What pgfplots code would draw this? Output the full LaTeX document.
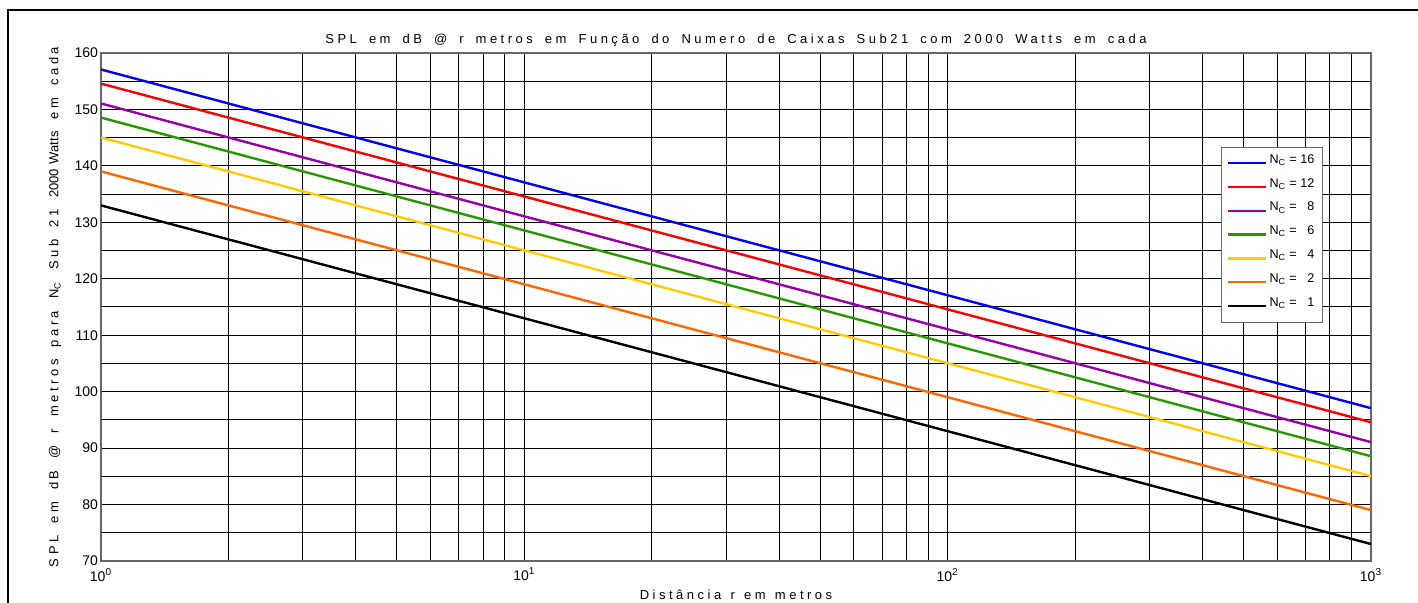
\documentclass[border=0pt]{standalone}
\usepackage{fontspec}
\setmainfont{Liberation Sans}
\newfontfamily\spaced[LetterSpace=27,WordSpace=1.67]{Liberation Sans}
\newfontfamily\spacedy[LetterSpace=27,WordSpace=1.3]{Liberation Sans}
\usepackage{pgfplots}
\pgfplotsset{compat=1.18}
\definecolor{cblue}{RGB}{0,0,255}
\definecolor{cred}{RGB}{255,0,0}
\definecolor{cpurple}{RGB}{153,0,170}
\definecolor{cgreen}{RGB}{40,150,0}
\definecolor{cyellow}{RGB}{255,204,0}
\definecolor{corange}{RGB}{255,102,0}
\begin{document}
\begin{tikzpicture}
\path[use as bounding box] (0,0) rectangle (709pt,301.5pt);
\draw[line width=1pt] (4pt,0) -- (4pt,296.25pt) -- (709pt,296.25pt);
\begin{axis}[
  at={(50.5pt,21pt)}, anchor=south west,
  scale only axis, width=635pt, height=254pt,
  xmode=log, xmin=1, xmax=1000, ymin=70, ymax=160,
  ytick={70,80,...,160}, minor ytick={75,85,...,155},
  xtick={1,10,100,1000},
  xticklabels={10\textsuperscript{0},10\textsuperscript{1},10\textsuperscript{2},10\textsuperscript{3}},
  /pgf/number format/assume math mode=true,
  grid=both,
  major grid style={black, line width=0.5pt},
  minor grid style={black, line width=0.5pt},
  axis line style={black!60, line width=0.6pt},
  tick style={draw=none},
  ticklabel style={font=\fontsize{7}{8}\selectfont},
  yticklabel style={xshift=2pt},
  title={\spaced SPL em dB @ r metros em Função do Numero de Caixas Sub21 com 2000 Watts em cada},
  title style={at={(rel axis cs:0.5,1)}, anchor=center, yshift=0.5pt, font=\fontsize{6.5}{7}\selectfont},
  xlabel={\spaced Distância r em metros},
  xlabel style={at={(rel axis cs:0.5,0)}, anchor=center, yshift=-17pt, font=\fontsize{6.5}{7}\selectfont},
  ylabel={\spacedy SPL em dB @ r metros para N\textsubscript{C} Sub 21 {\addfontfeature{LetterSpace=0}2000 Watts} em cada},
  ylabel style={at={(rel axis cs:0,0.5)}, anchor=center, rotate=0, yshift=23pt, font=\fontsize{6.5}{7}\selectfont},
  legend style={at={(rel axis cs:0.962,0.815)}, anchor=north east, draw=black!60, fill=white,
    font=\fontsize{6.3}{7}\selectfont, row sep=0pt,
    nodes={inner xsep=1pt, inner ysep=0pt, text height=6pt, text depth=5.9pt}},
  legend cell align=left,
  legend image code/.code={\draw[#1] (0pt,0pt) -- (19pt,0pt);},
]
\addplot[cblue, line width=1.2pt] coordinates {(1,157.08) (1000,97.08)};
\addlegendentry{N\textsubscript{C} = 16}
\addplot[cred, line width=1.2pt] coordinates {(1,154.58) (1000,94.58)};
\addlegendentry{N\textsubscript{C} = 12}
\addplot[cpurple, line width=1.2pt] coordinates {(1,151.06) (1000,91.06)};
\addlegendentry{N\textsubscript{C} = \phantom{1}8}
\addplot[cgreen, line width=1.2pt] coordinates {(1,148.56) (1000,88.56)};
\addlegendentry{N\textsubscript{C} = \phantom{1}6}
\addplot[cyellow, line width=1.2pt] coordinates {(1,145.04) (1000,85.04)};
\addlegendentry{N\textsubscript{C} = \phantom{1}4}
\addplot[corange, line width=1.2pt] coordinates {(1,139.02) (1000,79.02)};
\addlegendentry{N\textsubscript{C} = \phantom{1}2}
\addplot[black, line width=1.2pt] coordinates {(1,133.00) (1000,73.00)};
\addlegendentry{N\textsubscript{C} = \phantom{1}1}
\end{axis}
\end{tikzpicture}
\end{document}
